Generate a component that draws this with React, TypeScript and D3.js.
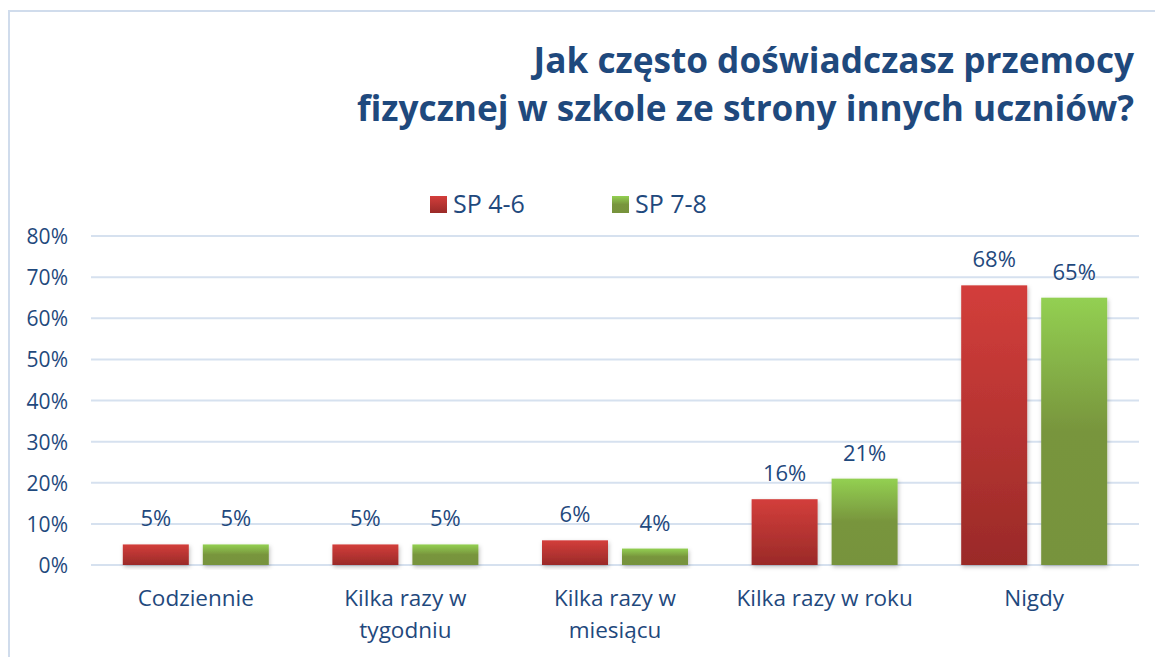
import React from "react";
import * as d3 from "d3";

const categories: string[][] = [
  ["Codziennie"],
  ["Kilka razy w", "tygodniu"],
  ["Kilka razy w", "miesiącu"],
  ["Kilka razy w roku"],
  ["Nigdy"],
];
const seriesNames = ["SP 4-6", "SP 7-8"];
const sp46 = [5, 5, 6, 16, 68];
const sp78 = [5, 5, 4, 21, 65];
const yTicks = [0, 10, 20, 30, 40, 50, 60, 70, 80];
const titleLines = ["Jak często doświadczasz przemocy", "fizycznej w szkole ze strony innych uczniów?"];

const W = 1155;
const H = 657;
const FONT = "'Open Sans', sans-serif";
const TEXT = "#1f497d";

export default function App() {
  const keys = categories.map((c) => c.join(" "));
  const x0 = d3.scaleBand<string>().domain(keys).range([91, 1139]).padding(0);
  const groupW = 146;
  const x1 = d3.scaleBand<string>().domain(seriesNames).range([0, groupW]).paddingInner(0.175).paddingOuter(0);
  const y = d3.scaleLinear().domain([0, 80]).range([565, 236]);
  const series = [
    { name: seriesNames[0], values: sp46, fill: "url(#gRed)" },
    { name: seriesNames[1], values: sp78, fill: "url(#gGreen)" },
  ];
  const off = (x0.bandwidth() - groupW) / 2;

  return (
    <svg width={W} height={H} style={{ position: "absolute", left: 0, top: 0 }}>
      <defs>
        <linearGradient id="gRed" x1="0" y1="0" x2="0" y2="1">
          <stop offset="0" stopColor="#d33e3b" />
          <stop offset="1" stopColor="#9a2a28" />
        </linearGradient>
        <linearGradient id="gGreen" x1="0" y1="0" x2="0" y2="1">
          <stop offset="0" stopColor="#93d052" />
          <stop offset="0.5" stopColor="#78953d" />
          <stop offset="1" stopColor="#77933c" />
        </linearGradient>
        <filter id="sh" x="-20%" y="-20%" width="140%" height="140%">
          <feDropShadow dx="1" dy="2" stdDeviation="2" floodColor="#000" floodOpacity="0.25" />
        </filter>
      </defs>
      <rect x={0} y={0} width={W} height={H} fill="#fff" />
      <rect x={9} y={11} width={W + 20} height={H + 20} fill="none" stroke="#d0dcec" strokeWidth={2} />
      {titleLines.map((t, i) => (
        <text key={i} x={1134} y={73 + i * 48} textAnchor="end" fontFamily={FONT} fontWeight="bold" fontSize={35.2} fill="#1f497d">
          {t}
        </text>
      ))}
      {/* legend */}
      {series.map((s, i) => (
        <g key={s.name} transform={`translate(${i === 0 ? 430 : 612},196)`}>
          <rect width={17} height={17} fill={s.fill} />
          <text x={23} y={17} fontFamily={FONT} fontSize={25} fill={TEXT}>
            {s.name}
          </text>
        </g>
      ))}
      {/* grid */}
      {yTicks.map((t) => (
        <g key={t}>
          <line x1={91} x2={1139} y1={y(t)} y2={y(t)} stroke="#d6e1ef" strokeWidth={2} />
          <text x={68} y={y(t) + 8} textAnchor="end" fontFamily={FONT} fontSize={21} fill={TEXT}>
            {t}%
          </text>
        </g>
      ))}
      {/* bars */}
      {keys.map((k, ci) => (
        <g key={k} transform={`translate(${(x0(k) ?? 0) + off},0)`}>
          {series.map((s) => {
            const v = s.values[ci];
            const bx = x1(s.name) ?? 0;
            return (
              <g key={s.name}>
                <rect x={bx} y={y(v)} width={x1.bandwidth()} height={y(0) - y(v)} fill={s.fill} filter="url(#sh)" />
                <text x={bx + x1.bandwidth() / 2} y={y(v) - 18} textAnchor="middle" fontFamily={FONT} fontSize={22} fill={TEXT}>
                  {v}%
                </text>
              </g>
            );
          })}
        </g>
      ))}
      {/* category labels */}
      {categories.map((lines, ci) => (
        <text key={ci} textAnchor="middle" fontFamily={FONT} fontSize={22.5} fill={TEXT}>
          {lines.map((l, li) => (
            <tspan key={li} x={(x0(keys[ci]) ?? 0) + x0.bandwidth() / 2} y={606 + li * 32}>
              {l}
            </tspan>
          ))}
        </text>
      ))}
    </svg>
  );
}
